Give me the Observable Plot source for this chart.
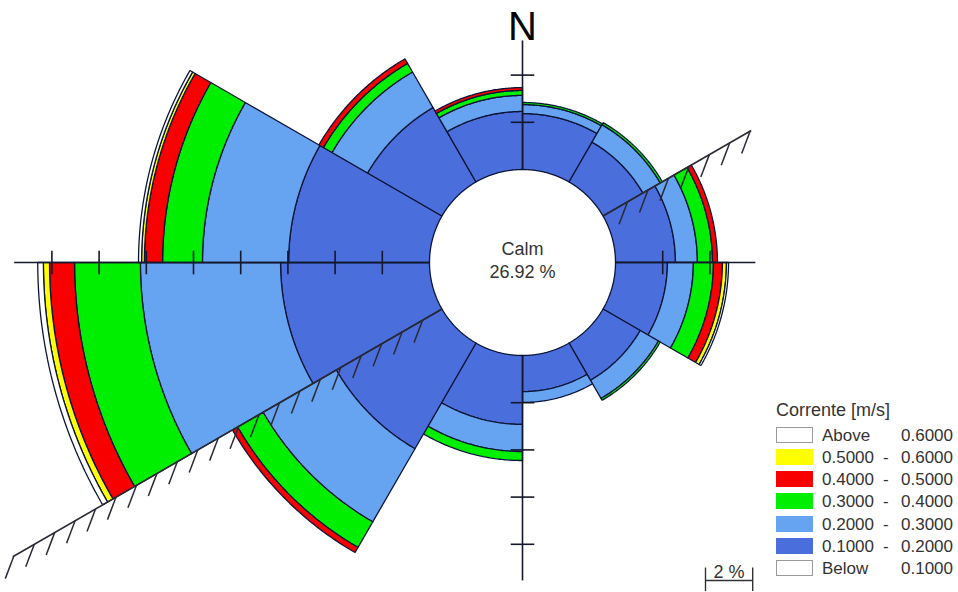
<!DOCTYPE html>
<html><head><meta charset="utf-8">
<script src="https://cdn.jsdelivr.net/npm/d3@7"></script>
<script src="https://cdn.jsdelivr.net/npm/@observablehq/plot@0.6"></script>
<style>
body{margin:0;background:#fff;font-family:"Liberation Sans",Arial,sans-serif;}
#wrap{position:relative;width:958px;height:592px;overflow:hidden;}
#wrap svg{position:absolute;left:0;top:0;}
.lg{position:absolute;font-size:17px;color:#333;line-height:17px;white-space:nowrap;}
.sw{position:absolute;width:37px;height:16px;box-sizing:border-box;}
</style></head><body><div id="wrap"></div>
<script>
// ---- data (percent of records per 30° sector, sector starts at the bearing) ----
const sectorStart = [0, 30, 60, 90, 120, 150, 180, 210, 240, 270, 300, 330];
const classes = ["0.1000 - 0.2000", "0.2000 - 0.3000", "0.3000 - 0.4000", "0.4000 - 0.5000", "0.5000 - 0.6000", "Above 0.6000"];
const classColors = ["#4a6fdc", "#66a3f0", "#00ee00", "#f80000", "#ffff00", "#ffffff"];
const f01_02 = [2.37, 1.95, 2.54, 2.20, 1.82, 1.53, 2.92, 5.17, 6.31, 5.97, 3.64, 2.46];
const f02_03 = [0.38, 0.85, 0.93, 1.10, 0.89, 0.46, 1.15, 3.58, 5.94, 3.65, 1.74, 0.68];
const f03_04 = [0.09, 0.10, 0.64, 0.85, 0.09, 0.00, 0.38, 1.25, 2.79, 1.69, 0.42, 0.21];
const f04_05 = [0.00, 0.00, 0.21, 0.38, 0.00, 0.00, 0.00, 0.25, 1.06, 0.77, 0.22, 0.12];
const f05_06 = [0.00, 0.00, 0.00, 0.17, 0.00, 0.00, 0.00, 0.00, 0.26, 0.12, 0.00, 0.00];
const fAbove = [0.00, 0.00, 0.00, 0.09, 0.00, 0.00, 0.00, 0.00, 0.24, 0.13, 0.00, 0.00];
const calmLabel = "Calm";
const calmPct = 26.92;
// axis cross: bearing and extent (%)
const axisBearing = [0, 90, 180, 270];
const axisExtent = [5.47, 5.93, 9.53, 17.6];
const tickStep = 2;
// coastline: bearing and extent (%)
const coastBearing = [60, 240];
const coastExtent = [7.25, 21.0];
const legendTitle = "Corrente [m/s]";
const legendRows = [
  ["#ffffff", "Above", "", "0.6000"],
  ["#ffff00", "0.5000", "-", "0.6000"],
  ["#f80000", "0.4000", "-", "0.5000"],
  ["#00ee00", "0.3000", "-", "0.4000"],
  ["#66a3f0", "0.2000", "-", "0.3000"],
  ["#4a6fdc", "0.1000", "-", "0.2000"],
  ["#ffffff", "Below", "", "0.1000"]
];
const scaleBarPct = 2;

// ---- geometry ----
const W = 958, H = 592, cx = 522, cy = 262, k = 23.6; // px per percent
const R0 = 93 / k; // calm circle radius in percent units
const pt = (b, r) => { const a = b * Math.PI / 180; return [r * Math.sin(a), r * Math.cos(a)]; };
const series = [f01_02, f02_03, f03_04, f04_05, f05_06, fAbove];

const bands = [];
sectorStart.forEach((s, i) => {
  let cum = 0;
  series.forEach((arr, j) => {
    const v = arr[i];
    if (!(v > 0)) return;
    const r0 = R0 + cum, r1 = R0 + cum + v; cum += v;
    const id = i + "-" + j;
    for (let a = s; a <= s + 30.001; a += 0.5) { const [x, y] = pt(a, r1); bands.push({id, cls: classes[j], x, y}); }
    for (let a = s + 30; a >= s - 0.001; a -= 0.5) { const [x, y] = pt(a, r0); bands.push({id, cls: classes[j], x, y}); }
    const [x, y] = pt(s, r1); bands.push({id, cls: classes[j], x, y});
  });
});

const axes = axisBearing.map((b, i) => { const [x1, y1] = pt(b, R0); const [x2, y2] = pt(b, R0 + axisExtent[i]); return {x1, y1, x2, y2}; });
const ticks = [];
axisBearing.forEach((b, i) => {
  for (let t = tickStep; t <= axisExtent[i] + 1e-9; t += tickStep) {
    const [x, y] = pt(b, R0 + t); const [px, py] = pt(b + 90, 0.5);
    ticks.push({x1: x - px, y1: y - py, x2: x + px, y2: y + py});
  }
});
const coast = coastBearing.map((b, i) => { const [x1, y1] = pt(b, R0); const [x2, y2] = pt(b, R0 + coastExtent[i]); return {x1, y1, x2, y2}; });
const hatch = [];
coastBearing.forEach((b, i) => {
  for (let r = R0 + coastExtent[i] - 0.05; r >= R0 + 0.3; r -= 1) {
    const [x, y] = pt(b, r);
    hatch.push({x1: x, y1: y, x2: x - 0.36, y2: y - 0.95});
  }
});
const nTop = pt(0, R0 + axisExtent[0]);
const sbX = (705 - cx) / k, sbY = (cy - 580) / k;

const chart = Plot.plot({
  width: W, height: H, margin: 0,
  x: {domain: [-cx / k, (W - cx) / k], range: [0, W], axis: null},
  y: {domain: [-(H - cy) / k, cy / k], range: [H, 0], axis: null},
  color: {domain: classes, range: classColors},
  style: {fontFamily: "Liberation Sans, Arial, sans-serif", background: "white"},
  marks: [
    Plot.line(bands, {x: "x", y: "y", z: "id", fill: "cls", stroke: "#0b1538", strokeWidth: 1.3, strokeLinejoin: "miter"}),
    Plot.link(axes, {x1: "x1", y1: "y1", x2: "x2", y2: "y2", stroke: "#15182a", strokeWidth: 1.6}),
    Plot.link(ticks, {x1: "x1", y1: "y1", x2: "x2", y2: "y2", stroke: "#15182a", strokeWidth: 1.6}),
    Plot.link(coast, {x1: "x1", y1: "y1", x2: "x2", y2: "y2", stroke: "#2a2a35", strokeWidth: 1.6}),
    Plot.link(hatch, {x1: "x1", y1: "y1", x2: "x2", y2: "y2", stroke: "#2a2a35", strokeWidth: 1.5}),
    Plot.text(["N"], {x: nTop[0], y: nTop[1], text: d => d, fontSize: 40, lineAnchor: "bottom", fill: "#000"}),
    Plot.text([calmLabel], {x: 0, y: 0, text: d => d, dy: -13, fontSize: 18, fill: "#333"}),
    Plot.text([calmPct.toFixed(2) + " %"], {x: 0, y: 0, text: d => d, dy: 10, fontSize: 18, fill: "#333"}),
    Plot.link([{x1: sbX, x2: sbX + scaleBarPct}], {x1: "x1", x2: "x2", y1: sbY, y2: sbY, stroke: "#333", strokeWidth: 1.4}),
    Plot.link([sbX, sbX + scaleBarPct], {x1: d => d, x2: d => d, y1: sbY + 0.55, y2: sbY - 0.45, stroke: "#333", strokeWidth: 1.4}),
    Plot.text([scaleBarPct + " %"], {x: sbX + scaleBarPct / 2, y: sbY, text: d => d, lineAnchor: "bottom", dy: -3, fontSize: 18, fill: "#333"})
  ]
});
const wrap = document.getElementById("wrap");
wrap.appendChild(chart);

// legend
const lt = document.createElement("div");
lt.className = "lg"; lt.style.left = "776px"; lt.style.top = "402px"; lt.style.fontSize = "18px"; lt.textContent = legendTitle;
wrap.appendChild(lt);
legendRows.forEach((row, i) => {
  const top = 427 + i * 22.15;
  const sw = document.createElement("div");
  sw.className = "sw"; sw.style.left = "776px"; sw.style.top = top + "px"; sw.style.background = row[0];
  sw.style.border = row[0] === "#ffffff" ? "1px solid #9a9a9a" : "1px solid " + row[0];
  wrap.appendChild(sw);
  const a = document.createElement("div"); a.className = "lg"; a.style.left = "822px"; a.style.top = top + "px"; a.textContent = row[1]; wrap.appendChild(a);
  if (row[2]) { const m = document.createElement("div"); m.className = "lg"; m.style.left = "883px"; m.style.top = top + "px"; m.textContent = row[2]; wrap.appendChild(m); }
  const c = document.createElement("div"); c.className = "lg"; c.style.right = (958 - 953) + "px"; c.style.top = top + "px"; c.textContent = row[3]; wrap.appendChild(c);
});
</script></body></html>
